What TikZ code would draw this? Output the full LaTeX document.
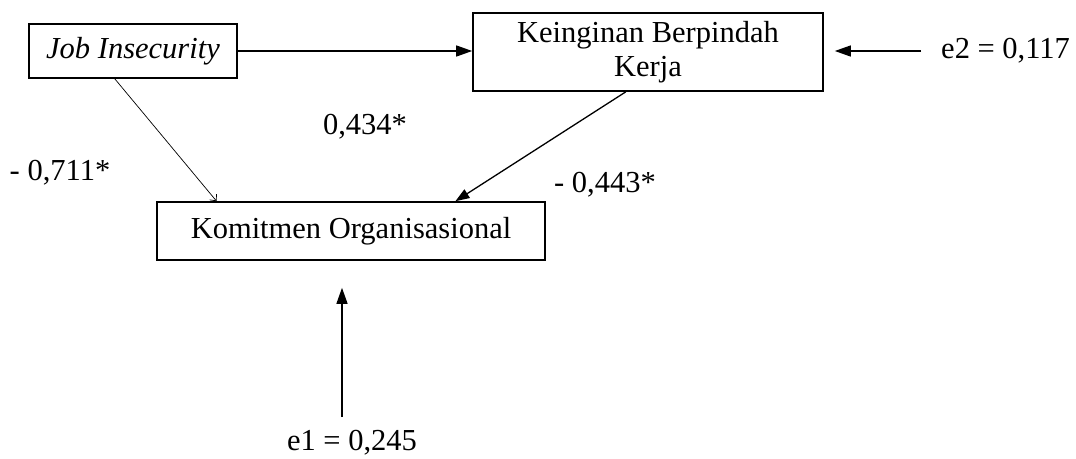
\documentclass[tikz,border=0pt]{standalone}
\usepackage{fontspec}
\setmainfont{Liberation Serif}
\usetikzlibrary{arrows.meta,calc}
\begin{document}
\begin{tikzpicture}[x=1pt,y=-1pt,
  box/.style={draw,line width=1.6pt,inner sep=0pt,font=\fontsize{30.5}{35}\selectfont},
  lbl/.style={inner sep=0pt,font=\fontsize{30.5}{35}\selectfont},
  conn/.style={line width=1.3pt,-{Triangle[length=16pt,width=11pt]}},
  thinconn/.style={line width=0.7pt,-{Straight Barb[length=5pt,width=9pt]}}]
\useasboundingbox (0,0) rectangle (1076,458);
\node[box,minimum width=208pt,minimum height=54pt] (job) at (133,51) {\textit{Job Insecurity}};
\node[box,minimum width=350pt,minimum height=78pt,align=center] (kbp) at (648,52) {Keinginan Berpindah\\[-1pt]Kerja};
\node[box,minimum width=388pt,minimum height=58pt] (kom) at (351,231) {Komitmen Organisasional};
\node[lbl,anchor=west] (e2) at (941,51) {e2 = 0,117};
\node[lbl] (e1) at (352,443) {e1 = 0,245};
\coordinate (e2s) at (921,51);
\coordinate (e1s) at (342,417);
\node[lbl] (l1) at (60,173) {- 0,711*};
\node[lbl] (l2) at (365,127) {0,434*};
\node[lbl] (l3) at (605,185) {- 0,443*};
\draw[conn] (job.east) -- (job.east -| kbp.west);
\draw[conn,shorten >=11pt] (e2s) -- (e2s -| kbp.east);
\draw[conn,shorten >=27pt] (e1s) -- (e1s |- kom.south);
\draw[thinconn] ($(job.south west)!0.413!(job.south east)$) -- ($(kom.north west)!0.155!(kom.north east)$);
\draw[conn,-{Triangle[length=14pt,width=10pt]}] ($(kbp.south west)!0.437!(kbp.south east)$) -- ($(kom.north west)!0.768!(kom.north east)$);
\end{tikzpicture}
\end{document}
